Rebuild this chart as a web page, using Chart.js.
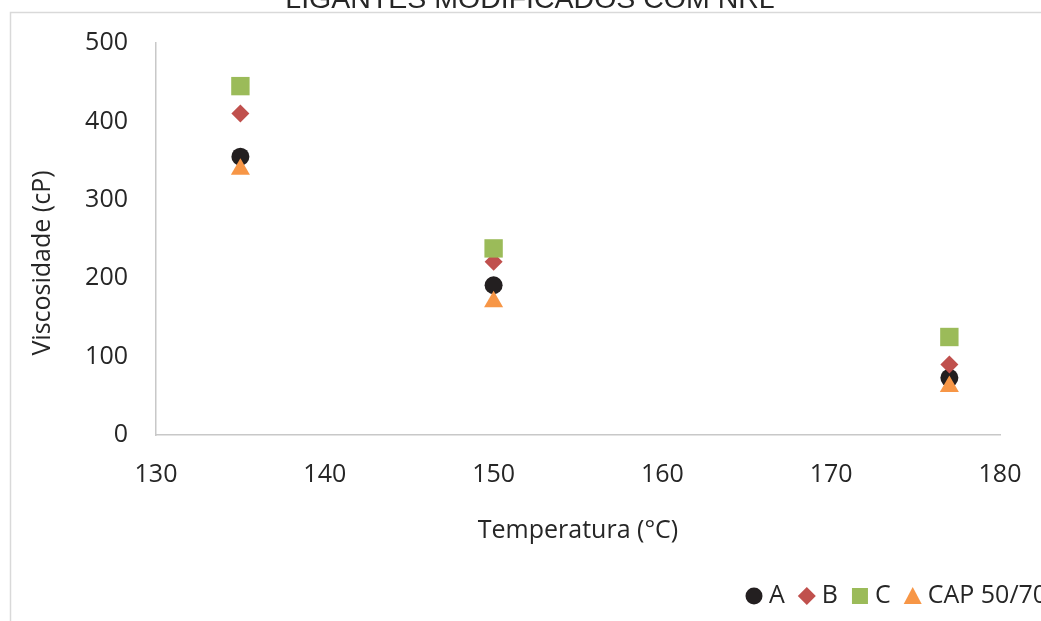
<!DOCTYPE html>
<html>
<head>
<meta charset="utf-8">
<title>Ligantes modificados com NRL</title>
<script src="https://cdn.jsdelivr.net/npm/chart.js@4"></script>
<style>
  html, body { margin: 0; padding: 0; background: #ffffff; }
  #chart { display: block; }
</style>
</head>
<body>
<canvas id="chart" width="1041" height="621"></canvas>
<script>
// Temperature (°C) at which viscosity was measured
const temperatures = [135, 150, 177];

// Viscosity (cP) for each binder
const viscosityA = [355, 191, 73];
const viscosityB = [410, 221, 90];
const viscosityC = [445, 238, 125];
const viscosityCAP = [339, 170, 62];

const seriesNames = ['A', 'B', 'C', 'CAP 50/70'];

// Axis ranges and tick steps
const xTicks = { min: 130, max: 180, step: 10 };
const yTicks = { min: 0, max: 500, step: 100 };

const chartTitle = 'LIGANTES MODIFICADOS COM NRL';
const xTitle = 'Temperatura (°C)';
const yTitle = 'Viscosidade (cP)';

const FONT = '"Open Sans", "DejaVu Sans", sans-serif';
const TEXT = '#262626';
const AXIS = '#c8c8c8';

function toPoints(values) {
  return temperatures.map((t, i) => ({ x: t, y: values[i] }));
}

const styles = [
  { style: 'circle',   color: '#231f20', radius: 9 },
  { style: 'rectRot',  color: '#c0504d', radius: 9 },
  { style: 'rect',     color: '#9bbb59', radius: 13 },
  { style: 'triangle', color: '#f79646', radius: 11 }
];
const seriesValues = [viscosityA, viscosityB, viscosityC, viscosityCAP];

const datasets = seriesValues.map((vals, i) => ({
  label: seriesNames[i],
  data: toPoints(vals),
  pointStyle: styles[i].style,
  pointRadius: styles[i].radius,
  pointHoverRadius: styles[i].radius,
  backgroundColor: styles[i].color,
  borderColor: styles[i].color,
  borderWidth: 0,
  order: seriesValues.length - i   // later series drawn on top
}));

// Outer frame, title, rotated y title and legend row
const decorations = {
  id: 'decorations',
  beforeDraw(chart) {
    const ctx = chart.ctx;
    ctx.save();
    ctx.strokeStyle = '#d9d9d9';
    ctx.lineWidth = 1.5;
    ctx.beginPath();
    ctx.moveTo(10.5, 621);
    ctx.lineTo(10.5, 12.5);
    ctx.lineTo(1041, 12.5);
    ctx.stroke();

    ctx.fillStyle = TEXT;
    ctx.font = '28.5px "Liberation Sans", Arial, sans-serif';
    ctx.textAlign = 'center';
    ctx.textBaseline = 'alphabetic';
    ctx.fillText(chartTitle, 530, 8);
    ctx.restore();
  },
  afterDraw(chart) {
    const ctx = chart.ctx;
    ctx.save();
    // y axis title
    ctx.fillStyle = TEXT;
    ctx.font = '25px ' + FONT;
    ctx.textAlign = 'center';
    ctx.textBaseline = 'middle';
    ctx.translate(43, 263);
    ctx.rotate(-Math.PI / 2);
    ctx.fillText(yTitle, 0, 0);
    ctx.restore();

    // legend row
    ctx.save();
    ctx.font = '25px ' + FONT;
    ctx.textBaseline = 'middle';
    ctx.textAlign = 'left';
    const y = 596;
    let x = 745;
    chart.data.datasets.forEach((ds) => {
      const cx = x + 9;
      ctx.fillStyle = ds.backgroundColor;
      ctx.beginPath();
      if (ds.pointStyle === 'circle') {
        ctx.arc(cx, y, 8.5, 0, Math.PI * 2);
      } else if (ds.pointStyle === 'rectRot') {
        ctx.moveTo(cx - 9, y); ctx.lineTo(cx, y - 9);
        ctx.lineTo(cx + 9, y); ctx.lineTo(cx, y + 9);
        ctx.closePath();
      } else if (ds.pointStyle === 'rect') {
        ctx.rect(cx - 8, y - 8, 16, 16);
      } else {
        ctx.moveTo(cx, y - 9); ctx.lineTo(cx + 9, y + 8);
        ctx.lineTo(cx - 9, y + 8); ctx.closePath();
      }
      ctx.fill();
      ctx.fillStyle = TEXT;
      const tx = x + 24;
      ctx.fillText(ds.label, tx, y);
      x = tx + ctx.measureText(ds.label).width + 13;
    });
    ctx.restore();
  }
};

new Chart(document.getElementById('chart'), {
  type: 'scatter',
  data: { datasets },
  plugins: [decorations],
  options: {
    responsive: false,
    animation: false,
    events: [],
    layout: { padding: { top: 43, right: 41, left: 0, bottom: 0 } },
    plugins: {
      legend: { display: false },
      title: { display: false },
      tooltip: { enabled: false }
    },
    scales: {
      x: {
        type: 'linear',
        min: xTicks.min,
        max: xTicks.max,
        afterFit(scale) {
          scale.height = 186;
          scale.paddingLeft = 0;
          scale.paddingRight = 0;
        },
        ticks: {
          stepSize: xTicks.step,
          padding: 25,
          color: TEXT,
          font: { family: FONT, size: 25 }
        },
        grid: { display: true, drawOnChartArea: false, drawTicks: false, color: 'rgba(0,0,0,0)' },
        border: { display: true, color: AXIS, width: 1.5 },
        title: {
          display: true,
          text: xTitle,
          color: TEXT,
          font: { family: FONT, size: 25 },
          padding: { top: 0, bottom: 75 }
        }
      },
      y: {
        type: 'linear',
        min: yTicks.min,
        max: yTicks.max,
        afterFit(scale) {
          scale.width = 156;
          scale.paddingTop = 0;
          scale.paddingBottom = 0;
        },
        ticks: {
          stepSize: yTicks.step,
          padding: 28,
          color: TEXT,
          font: { family: FONT, size: 25 }
        },
        grid: { display: true, drawOnChartArea: false, drawTicks: false, color: 'rgba(0,0,0,0)' },
        border: { display: true, color: AXIS, width: 1.5 }
      }
    }
  }
});
</script>
</body>
</html>
